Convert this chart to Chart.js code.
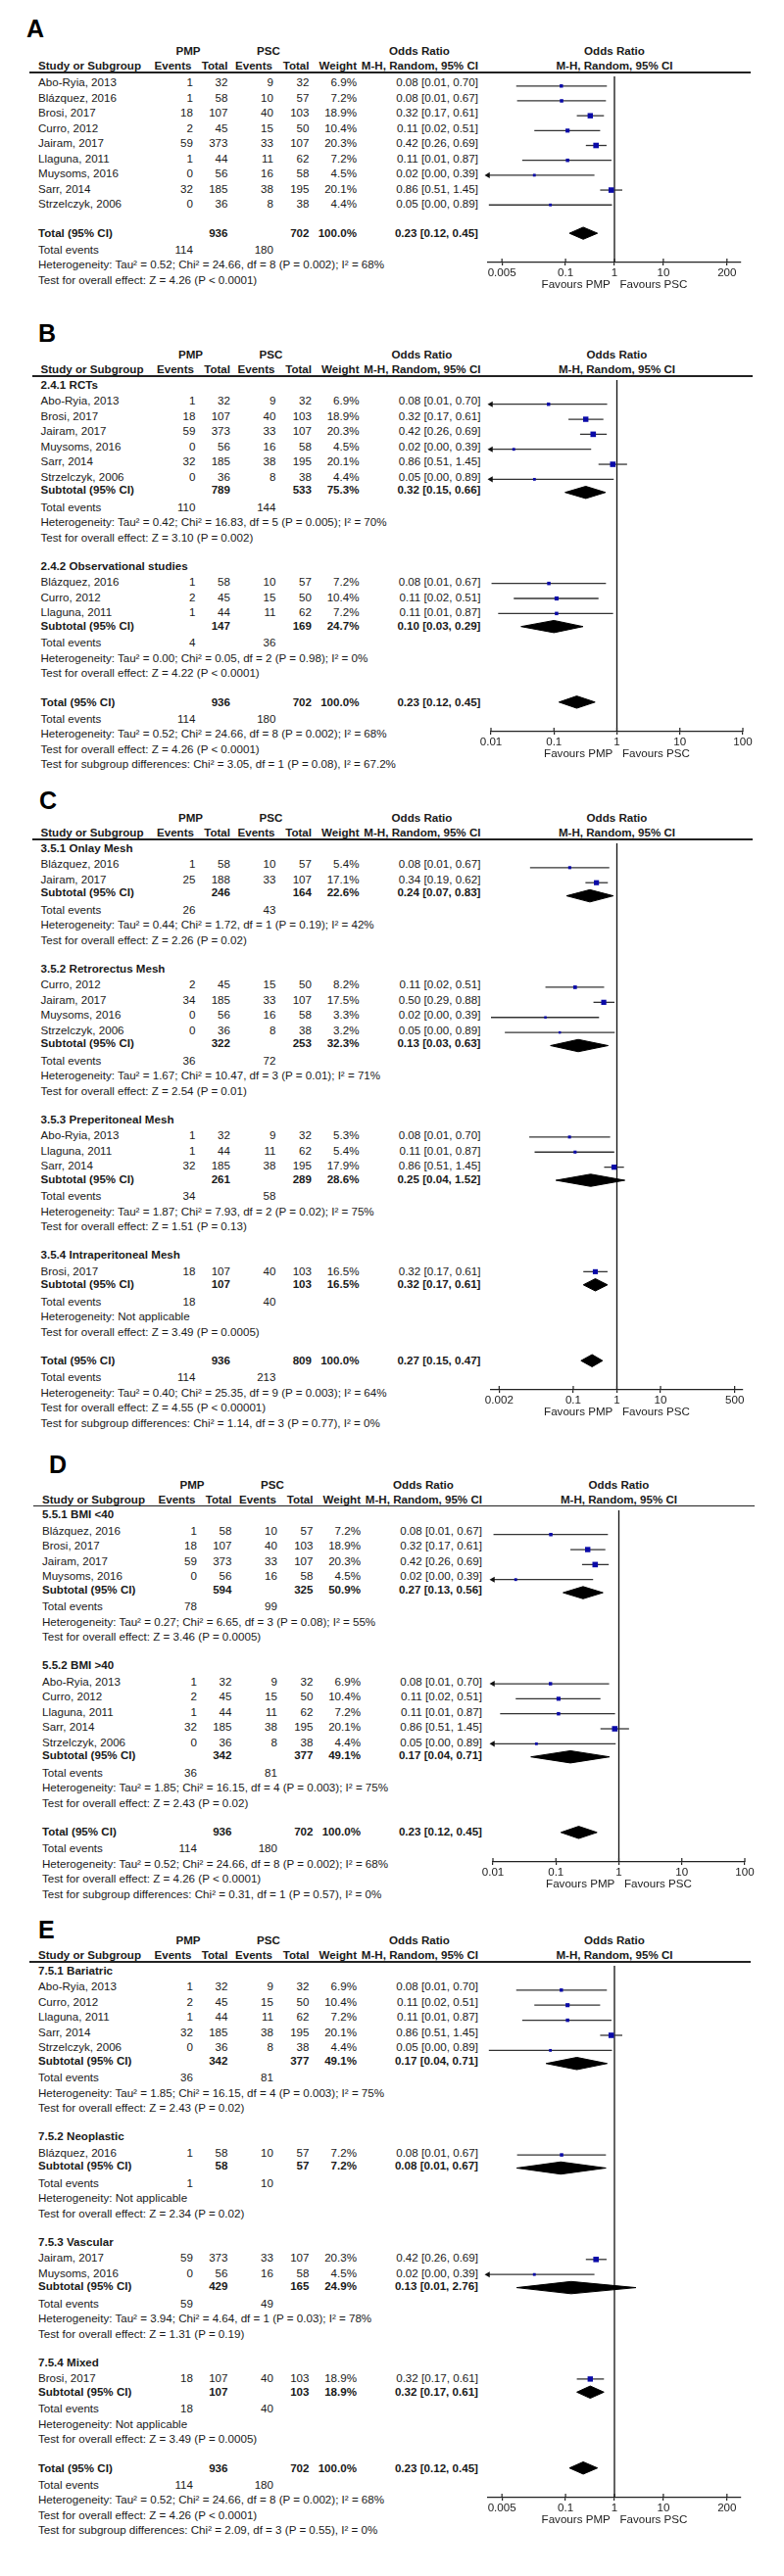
<!DOCTYPE html>
<html><head><meta charset="utf-8">
<script src="https://cdn.jsdelivr.net/npm/chart.js@4.4.0/dist/chart.umd.min.js"></script>
<style>
html,body{margin:0;padding:0;background:#fff;}
#page{position:relative;width:800px;height:2630px;overflow:hidden;font-family:"Liberation Sans",Arial,sans-serif;font-size:11.6px;color:#1a1a1a;}
.t{position:absolute;white-space:nowrap;line-height:14px;height:14px;}
.b{font-weight:bold;}
.lbl{position:absolute;font-weight:bold;font-size:25px;line-height:28px;color:#000;}
.hl{position:absolute;height:1.4px;background:#222;}
canvas{position:absolute;}
</style></head><body><div id="page"></div>
<script>
// ---------- study data ----------
const studyNames = ['Abo-Ryia, 2013','Blázquez, 2016','Brosi, 2017','Curro, 2012','Jairam, 2017','Llaguna, 2011','Muysoms, 2016','Sarr, 2014','Strzelczyk, 2006','Jairam, 2017','Jairam, 2017'];
const pmpEvents = [1, 1, 18, 2, 59, 1, 0, 32, 0, 25, 34];
const pmpTotal  = [32, 58, 107, 45, 373, 44, 56, 185, 36, 188, 185];
const pscEvents = [9, 10, 40, 15, 33, 11, 16, 38, 8, 33, 33];
const pscTotal  = [32, 57, 103, 50, 107, 62, 58, 195, 38, 107, 107];
const orPoint = [0.082, 0.083, 0.32, 0.11, 0.42, 0.11, 0.023, 0.86, 0.049, 0.34, 0.50];
const orLower = [0.0098, 0.0102, 0.17, 0.023, 0.26, 0.013, 0.0013, 0.51, 0.0027, 0.19, 0.29];
const orUpper = [0.70, 0.67, 0.61, 0.51, 0.69, 0.87, 0.39, 1.45, 0.89, 0.62, 0.88];

// ---------- panel A ----------
const titlesA = null;
const studiesA = [[0,1,2,3,4,5,6,7,8]];
const weightsA = [[6.9,7.2,18.9,10.4,20.3,7.2,4.5,20.1,4.4]];
const totalA = [936, 702, 100.0, 0.23, 0.12, 0.45];
const totalEventsA = [114, 180];
const totalHetA = 'Tau² = 0.52; Chi² = 24.66, df = 8 (P = 0.002); I² = 68%';
const totalTestA = 'Z = 4.26 (P < 0.0001)';
const ticksA = [0.005, 0.1, 1, 10, 200];
const tickLabelsA = ['0.005','0.1','1','10','200'];

// ---------- panel B ----------
const titlesB = ['2.4.1 RCTs','2.4.2 Observational studies'];
const studiesB = [[0,2,4,6,7,8],[1,3,5]];
const weightsB = [[6.9,18.9,20.3,4.5,20.1,4.4],[7.2,10.4,7.2]];
const subtotB = [[789,533,75.3,0.32,0.15,0.66],[147,169,24.7,0.10,0.03,0.29]];
const eventsB = [[110,144],[4,36]];
const hetB = ['Tau² = 0.42; Chi² = 16.83, df = 5 (P = 0.005); I² = 70%','Tau² = 0.00; Chi² = 0.05, df = 2 (P = 0.98); I² = 0%'];
const testB = ['Z = 3.10 (P = 0.002)','Z = 4.22 (P < 0.0001)'];
const totalB = [936, 702, 100.0, 0.23, 0.12, 0.45];
const totalEventsB = [114, 180];
const totalHetB = 'Tau² = 0.52; Chi² = 24.66, df = 8 (P = 0.002); I² = 68%';
const totalTestB = 'Z = 4.26 (P < 0.0001)';
const subDiffB = 'Chi² = 3.05, df = 1 (P = 0.08), I² = 67.2%';
const ticksB = [0.01, 0.1, 1, 10, 100];
const tickLabelsB = ['0.01','0.1','1','10','100'];

// ---------- panel C ----------
const titlesC = ['3.5.1 Onlay Mesh','3.5.2 Retrorectus Mesh','3.5.3 Preperitoneal Mesh','3.5.4 Intraperitoneal Mesh'];
const studiesC = [[1,9],[3,10,6,8],[0,5,7],[2]];
const weightsC = [[5.4,17.1],[8.2,17.5,3.3,3.2],[5.3,5.4,17.9],[16.5]];
const subtotC = [[246,164,22.6,0.24,0.07,0.83],[322,253,32.3,0.13,0.03,0.63],[261,289,28.6,0.25,0.04,1.52],[107,103,16.5,0.32,0.17,0.61]];
const eventsC = [[26,43],[36,72],[34,58],[18,40]];
const hetC = ['Tau² = 0.44; Chi² = 1.72, df = 1 (P = 0.19); I² = 42%','Tau² = 1.67; Chi² = 10.47, df = 3 (P = 0.01); I² = 71%','Tau² = 1.87; Chi² = 7.93, df = 2 (P = 0.02); I² = 75%','Not applicable'];
const testC = ['Z = 2.26 (P = 0.02)','Z = 2.54 (P = 0.01)','Z = 1.51 (P = 0.13)','Z = 3.49 (P = 0.0005)'];
const totalC = [936, 809, 100.0, 0.27, 0.15, 0.47];
const totalEventsC = [114, 213];
const totalHetC = 'Tau² = 0.40; Chi² = 25.35, df = 9 (P = 0.003); I² = 64%';
const totalTestC = 'Z = 4.55 (P < 0.00001)';
const subDiffC = 'Chi² = 1.14, df = 3 (P = 0.77), I² = 0%';
const ticksC = [0.002, 0.1, 1, 10, 500];
const tickLabelsC = ['0.002','0.1','1','10','500'];

// ---------- panel D ----------
const titlesD = ['5.5.1 BMI <40','5.5.2 BMI >40'];
const studiesD = [[1,2,4,6],[0,3,5,7,8]];
const weightsD = [[7.2,18.9,20.3,4.5],[6.9,10.4,7.2,20.1,4.4]];
const subtotD = [[594,325,50.9,0.27,0.13,0.56],[342,377,49.1,0.17,0.04,0.71]];
const eventsD = [[78,99],[36,81]];
const hetD = ['Tau² = 0.27; Chi² = 6.65, df = 3 (P = 0.08); I² = 55%','Tau² = 1.85; Chi² = 16.15, df = 4 (P = 0.003); I² = 75%'];
const testD = ['Z = 3.46 (P = 0.0005)','Z = 2.43 (P = 0.02)'];
const totalD = [936, 702, 100.0, 0.23, 0.12, 0.45];
const totalEventsD = [114, 180];
const totalHetD = 'Tau² = 0.52; Chi² = 24.66, df = 8 (P = 0.002); I² = 68%';
const totalTestD = 'Z = 4.26 (P < 0.0001)';
const subDiffD = 'Chi² = 0.31, df = 1 (P = 0.57), I² = 0%';
const ticksD = [0.01, 0.1, 1, 10, 100];
const tickLabelsD = ['0.01','0.1','1','10','100'];

// ---------- panel E ----------
const titlesE = ['7.5.1 Bariatric','7.5.2 Neoplastic','7.5.3 Vascular','7.5.4 Mixed'];
const studiesE = [[0,3,5,7,8],[1],[4,6],[2]];
const weightsE = [[6.9,10.4,7.2,20.1,4.4],[7.2],[20.3,4.5],[18.9]];
const subtotE = [[342,377,49.1,0.17,0.04,0.71],[58,57,7.2,0.08,0.01,0.67],[429,165,24.9,0.13,0.01,2.76],[107,103,18.9,0.32,0.17,0.61]];
const eventsE = [[36,81],[1,10],[59,49],[18,40]];
const hetE = ['Tau² = 1.85; Chi² = 16.15, df = 4 (P = 0.003); I² = 75%','Not applicable','Tau² = 3.94; Chi² = 4.64, df = 1 (P = 0.03); I² = 78%','Not applicable'];
const testE = ['Z = 2.43 (P = 0.02)','Z = 2.34 (P = 0.02)','Z = 1.31 (P = 0.19)','Z = 3.49 (P = 0.0005)'];
const totalE = [936, 702, 100.0, 0.23, 0.12, 0.45];
const totalEventsE = [114, 180];
const totalHetE = 'Tau² = 0.52; Chi² = 24.66, df = 8 (P = 0.002); I² = 68%';
const totalTestE = 'Z = 4.26 (P < 0.0001)';
const subDiffE = 'Chi² = 2.09, df = 3 (P = 0.55), I² = 0%';
const ticksE = [0.005, 0.1, 1, 10, 200];
const tickLabelsE = ['0.005','0.1','1','10','200'];

// ---------- rendering ----------
Chart.defaults.font.family = '"Liberation Sans", Arial, sans-serif';
const page = document.getElementById('page');
function txt(x, y, s, align, bold) {
  const d = document.createElement('div');
  d.className = 't' + (bold ? ' b' : '');
  d.textContent = s;
  d.style.top = (y - 7) + 'px';
  if (align === 'r') { d.style.left = (x - 300) + 'px'; d.style.width = '300px'; d.style.textAlign = 'right'; }
  else if (align === 'c') { d.style.left = (x - 150) + 'px'; d.style.width = '300px'; d.style.textAlign = 'center'; }
  else d.style.left = x + 'px';
  page.appendChild(d);
}
const ciText = (o, l, h) => o.toFixed(2) + ' [' + l.toFixed(2) + ', ' + h.toFixed(2) + ']';

const tickUp = { id: 'tickUp', afterDraw(chart) {
  const s = chart.scales.x, ctx = chart.ctx;
  ctx.save(); ctx.strokeStyle = '#222'; ctx.lineWidth = 1.2;
  s.ticks.forEach(t => { const px = s.getPixelForValue(t.value); ctx.beginPath(); ctx.moveTo(px, s.top - 4); ctx.lineTo(px, s.top); ctx.stroke(); });
  ctx.restore();
}};

function buildPanel(p) {
  const dx = p.dx, L = p.L;
  const C = {name: 39+dx, pe: 197+dx, pt: 232.5+dx, se: 279+dx, st: 315.5+dx, w: 364+dx, or: 488+dx, pmp: 192+dx, psc: 274+dx, orh: 428+dx};
  const cx = (p.cl + p.cr) / 2;
  const lab = document.createElement('div'); lab.className = 'lbl'; lab.textContent = p.label;
  lab.style.left = p.labelX + 'px'; lab.style.top = (p.labelY - 14) + 'px'; page.appendChild(lab);
  const hl = document.createElement('div'); hl.className = 'hl';
  hl.style.left = (30 + dx) + 'px'; hl.style.width = (p.cr + 10 - 30 - dx) + 'px'; hl.style.top = (L - 0.7) + 'px'; page.appendChild(hl);
  txt(C.pmp, L-22, 'PMP', 'c', true); txt(C.psc, L-22, 'PSC', 'c', true);
  txt(C.orh, L-22, 'Odds Ratio', 'c', true); txt(cx, L-22, 'Odds Ratio', 'c', true);
  txt(C.name, L-7, 'Study or Subgroup', 'l', true);
  txt(C.pe-1.5, L-7, 'Events', 'r', true); txt(C.pt, L-7, 'Total', 'r', true);
  txt(C.se-1, L-7, 'Events', 'r', true); txt(C.st, L-7, 'Total', 'r', true);
  txt(C.w, L-7, 'Weight', 'r', true); txt(C.or, L-7, 'M-H, Random, 95% CI', 'r', true);
  txt(cx, L-7, 'M-H, Random, 95% CI', 'c', true);

  const ci = [], sq = [], sqW = [], dia = [], arrows = [];
  function studyRow(s, w, y) {
    txt(C.name, y, studyNames[s]);
    txt(C.pe, y, String(pmpEvents[s]), 'r'); txt(C.pt, y, String(pmpTotal[s]), 'r');
    txt(C.se, y, String(pscEvents[s]), 'r'); txt(C.st, y, String(pscTotal[s]), 'r');
    txt(C.w, y, w.toFixed(1) + '%', 'r');
    txt(C.or, y, ciText(orPoint[s], orLower[s], orUpper[s]), 'r');
    ci.push([Math.max(orLower[s], p.min), Math.min(orUpper[s], p.max), y]);
    if (orLower[s] < p.min) arrows.push({x: p.min, y});
    sq.push({x: orPoint[s], y}); sqW.push(w);
  }
  function summaryRow(label, v, y) {
    txt(C.name, y, label, 'l', true);
    txt(C.pt, y, String(v[0]), 'r', true); txt(C.st, y, String(v[1]), 'r', true);
    txt(C.w, y, v[2].toFixed(1) + '%', 'r', true);
    txt(C.or, y, ciText(v[3], v[4], v[5]), 'r', true);
    dia.push([v[3], v[4], v[5], y]);
  }
  function eventsRow(e, y) { txt(C.name, y, 'Total events'); txt(C.pe, y, String(e[0]), 'r'); txt(C.se, y, String(e[1]), 'r'); }

  let y = L;
  if (!p.titles) {
    y += 10;
    p.studies[0].forEach((s, i) => { if (i) y += 15.5; studyRow(s, p.weights[0][i], y); });
    y += 29.5;
  } else {
    p.titles.forEach((t, g) => {
      y += g ? 29 : 8.5; txt(C.name, y, t, 'l', true);
      y += 16.5;
      p.studies[g].forEach((s, i) => { if (i) y += 15.5; studyRow(s, p.weights[g][i], y); });
      y += 13.5; summaryRow('Subtotal (95% CI)', p.subtot[g], y);
      y += 17.5; eventsRow(p.events[g], y);
      y += 15.5; txt(C.name, y, 'Heterogeneity: ' + p.het[g]);
      y += 15.5; txt(C.name, y, 'Test for overall effect: ' + p.test[g]);
    });
    y += 29.5;
  }
  const totalY = y;
  summaryRow('Total (95% CI)', p.total, y);
  y += 17.2; eventsRow(p.totalEvents, y);
  y += 15.5; txt(C.name, y, 'Heterogeneity: ' + p.totalHet);
  y += 15.5; txt(C.name, y, 'Test for overall effect: ' + p.totalTest);
  if (p.subDiff) { y += 15.5; txt(C.name, y, 'Test for subgroup differences: ' + p.subDiff); }
  const axisY = totalY + 30.3;

  const cv = document.createElement('canvas');
  const W = p.cr - p.cl + 40, H = Math.round(axisY - L) + 36;
  cv.width = W; cv.height = H; cv.style.width = W + 'px'; cv.style.height = H + 'px';
  cv.style.left = (p.cl - 20) + 'px'; cv.style.top = L + 'px';
  page.appendChild(cv);
  const yMax = L + Math.round(axisY - L);
  const h = 6.3;
  const datasets = [];
  datasets.push({data: arrows, pointStyle: 'triangle', rotation: -90, pointRadius: 3.5, backgroundColor: '#111', borderWidth: 0, clip: false});
  datasets.push({data: sq, pointStyle: 'rect', pointRadius: c => 1.15 * Math.sqrt(sqW[c.dataIndex]) / Math.SQRT2 + 0.3, backgroundColor: '#0a0aa8', borderWidth: 0});
  dia.forEach(d => datasets.push({data: [{x: d[1], y: d[3]}, {x: d[0], y: d[3] - h}, {x: d[2], y: d[3]}, {x: d[0], y: d[3] + h}, {x: d[1], y: d[3]}],
    showLine: true, fill: 'shape', backgroundColor: '#000', borderColor: '#000', borderWidth: 1, pointRadius: 0, tension: 0}));
  ci.forEach(c => datasets.push({data: [{x: c[0], y: c[2]}, {x: c[1], y: c[2]}], showLine: true, borderColor: '#333', borderWidth: 1.3, pointRadius: 0}));
  datasets.push({data: [{x: 1, y: L}, {x: 1, y: yMax}], showLine: true, borderColor: '#111', borderWidth: 1.3, pointRadius: 0, clip: false});

  new Chart(cv, {
    type: 'scatter',
    data: {datasets},
    plugins: [tickUp],
    options: {
      responsive: false, animation: false, events: [],
      layout: {padding: {left: 20, right: 20, top: 0, bottom: 0}},
      plugins: {legend: {display: false}, tooltip: {enabled: false}},
      scales: {
        x: {
          type: 'logarithmic', min: p.min, max: p.max, position: 'bottom',
          afterBuildTicks: s => { s.ticks = p.ticks.map(v => ({value: v})); },
          afterFit: s => { s.height = 36; },
          ticks: {callback: (v, i) => p.tickLabels[i], autoSkip: false, maxRotation: 0, padding: 1, color: '#222', font: {size: 11.6}},
          grid: {display: true, drawOnChartArea: false, drawTicks: true, tickLength: 3, color: '#222', lineWidth: 1.2},
          border: {display: true, color: '#222', width: 1.3},
          title: {display: true, text: 'Favours PMP   Favours PSC', color: '#222', font: {size: 11.6, lineHeight: 1.2}, padding: {top: 0, bottom: 6}}
        },
        y: {type: 'linear', display: false, min: L, max: yMax, reverse: true}
      }
    }
  });
}

buildPanel({label: 'A', labelX: 27, labelY: 29, L: 74, dx: 0, cl: 498, cr: 756, min: 0.0026, max: 385, ticks: ticksA, tickLabels: tickLabelsA,
  titles: titlesA, studies: studiesA, weights: weightsA, total: totalA, totalEvents: totalEventsA, totalHet: totalHetA, totalTest: totalTestA, subDiff: null});
buildPanel({label: 'B', labelX: 39, labelY: 340, L: 384, dx: 2.5, cl: 501, cr: 758, min: 0.01, max: 100, ticks: ticksB, tickLabels: tickLabelsB,
  titles: titlesB, studies: studiesB, weights: weightsB, subtot: subtotB, events: eventsB, het: hetB, test: testB,
  total: totalB, totalEvents: totalEventsB, totalHet: totalHetB, totalTest: totalTestB, subDiff: subDiffB});
buildPanel({label: 'C', labelX: 40, labelY: 817, L: 857, dx: 2.5, cl: 501, cr: 758, min: 0.0013, max: 770, ticks: ticksC, tickLabels: tickLabelsC,
  titles: titlesC, studies: studiesC, weights: weightsC, subtot: subtotC, events: eventsC, het: hetC, test: testC,
  total: totalC, totalEvents: totalEventsC, totalHet: totalHetC, totalTest: totalTestC, subDiff: subDiffC});
buildPanel({label: 'D', labelX: 50, labelY: 1494.5, L: 1537.5, dx: 4, cl: 503, cr: 760, min: 0.01, max: 100, ticks: ticksD, tickLabels: tickLabelsD,
  titles: titlesD, studies: studiesD, weights: weightsD, subtot: subtotD, events: eventsD, het: hetD, test: testD,
  total: totalD, totalEvents: totalEventsD, totalHet: totalHetD, totalTest: totalTestD, subDiff: subDiffD});
buildPanel({label: 'E', labelX: 39, labelY: 1970, L: 2003, dx: 0, cl: 498, cr: 756, min: 0.0026, max: 385, ticks: ticksE, tickLabels: tickLabelsE,
  titles: titlesE, studies: studiesE, weights: weightsE, subtot: subtotE, events: eventsE, het: hetE, test: testE,
  total: totalE, totalEvents: totalEventsE, totalHet: totalHetE, totalTest: totalTestE, subDiff: subDiffE});
</script></body></html>
